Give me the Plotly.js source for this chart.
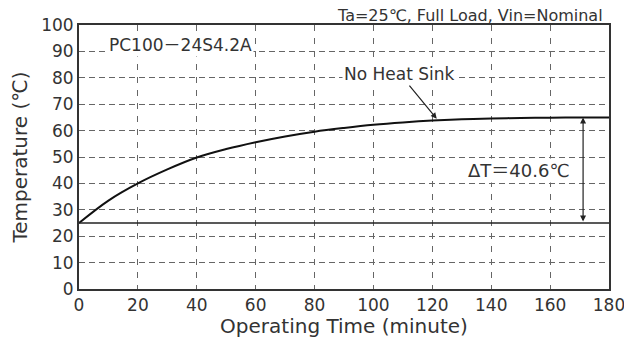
<!DOCTYPE html>
<html>
<head>
<meta charset="utf-8">
<script src="https://cdn.plot.ly/plotly-3.0.1.min.js"></script>
<style>html,body{margin:0;padding:0;background:#fff;}#chart{width:624px;height:338px;}</style>
</head>
<body>
<div id="chart"></div>
<script>
const timeMin = [0,10,20,30,40,50,60,70,80,90,100,110,120,130,140,150,160,170,180];
const tempC   = [25,33.5,40,45.3,49.8,53,55.6,57.8,59.6,61,62.2,63.1,63.8,64.3,64.6,64.8,64.9,65,65];
const ambient = 25;
const deltaLabel = "ΔT＝40.6℃";
const modelLabel = "PC100－24S4.2A";
const curveLabel = "No Heat Sink";
const condLabel = "Ta=25℃, Full Load, Vin=Nominal";
const xTicks = [0,20,40,60,80,100,120,140,160,180];
const yTicks = [0,10,20,30,40,50,60,70,80,90,100];

const font = "'DejaVu Sans', 'Noto Sans CJK JP', sans-serif";
const txt = "#333";

const traces = [{
  x: timeMin, y: tempC, type: 'scatter', mode: 'lines',
  line: {color: '#111', width: 2, shape: 'spline'}, hoverinfo: 'skip'
}];

const layout = {
  width: 624, height: 338,
  margin: {l: 79, r: 15, t: 25, b: 49},
  paper_bgcolor: '#fff', plot_bgcolor: '#fff',
  showlegend: false,
  font: {family: font, color: txt, size: 17},
  xaxis: {
    range: [0, 180], tickvals: xTicks, ticktext: xTicks.map(String),
    showgrid: true, gridcolor: '#666', gridwidth: 1, griddash: '6px,7px',
    showline: true, linecolor: '#333', linewidth: 2, mirror: true,
    ticks: '', zeroline: false, tickfont: {size: 17, color: txt},
    ticklabeloverflow: 'allow',
    title: {text: 'Operating Time (minute)', font: {size: 20, color: txt}, standoff: 2}
  },
  yaxis: {
    range: [0, 100], tickvals: yTicks, ticktext: yTicks.map(String),
    showgrid: true, gridcolor: '#666', gridwidth: 1, griddash: '6px,4px',
    showline: true, linecolor: '#333', linewidth: 2, mirror: true,
    ticks: '', zeroline: false, tickfont: {size: 17, color: txt},
    ticklabeloverflow: 'allow',
    title: {text: 'Temperature (℃)', font: {size: 20, color: txt}, standoff: 8}
  },
  shapes: [{
    type: 'line', xref: 'x', yref: 'y', x0: 0, x1: 180, y0: ambient, y1: ambient,
    line: {color: '#222', width: 1.5}
  }],
  annotations: [
    {xref: 'paper', yref: 'paper', x: 0.992, y: 1, xanchor: 'right', yanchor: 'bottom',
     text: condLabel, showarrow: false, font: {size: 16, color: txt}, yshift: -2},
    {xref: 'x', yref: 'y', x: 34.6, y: 92.4, text: modelLabel, showarrow: false,
     bgcolor: '#fff', font: {size: 17, color: txt}, borderpad: 1},
    {xref: 'x', yref: 'y', axref: 'x', ayref: 'y', x: 121.5, y: 64.5, ax: 109, ay: 81.4,
     text: curveLabel, showarrow: true, arrowhead: 2, arrowsize: 1, arrowwidth: 1.2,
     arrowcolor: '#222', bgcolor: '#fff', font: {size: 17, color: txt}, borderpad: 1},
    {xref: 'x', yref: 'y', x: 149.4, y: 45, text: deltaLabel, showarrow: false,
     bgcolor: '#fff', font: {size: 18, color: txt}, borderpad: 1},
    {xref: 'x', yref: 'y', axref: 'x', ayref: 'y', x: 171.2, y: 65, ax: 171.2, ay: ambient,
     text: '', showarrow: true, arrowhead: 2, startarrowhead: 2, arrowside: 'end+start',
     arrowsize: 1, arrowwidth: 1.2, arrowcolor: '#222'}
  ]
};

Plotly.newPlot('chart', traces, layout, {staticPlot: true, displayModeBar: false});
</script>
</body>
</html>
